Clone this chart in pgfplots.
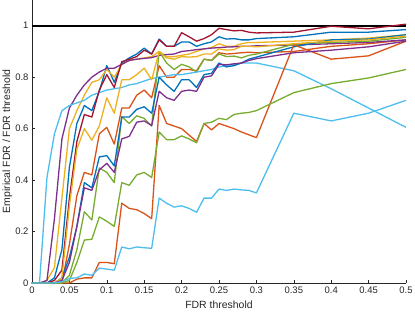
\documentclass[border=0pt]{standalone}
\usepackage{fontspec}
\setmainfont{Liberation Sans}
\usepackage{pgfplots}
\usepackage{pgfplotstable}
\pgfplotsset{compat=1.18}
\definecolor{mB}{rgb}{0,0.447,0.741}
\definecolor{mO}{rgb}{0.85,0.325,0.098}
\definecolor{mY}{rgb}{0.929,0.694,0.125}
\definecolor{mP}{rgb}{0.494,0.184,0.556}
\definecolor{mG}{rgb}{0.466,0.674,0.188}
\definecolor{mL}{rgb}{0.301,0.745,0.933}
\definecolor{mR}{rgb}{0.635,0.078,0.184}
\definecolor{axgray}{rgb}{0.15,0.15,0.15}
\pgfplotstableread{
x B1 Oa Y1 P1 G1 LB1 DR B2 Ob Y2 P2 G2 LB2
0.00 0 0 0 0 0 0 0 0 0 0 0 0 0
0.01 0 0 0 0 0 0 0 0 0 0 0 0 0
0.02 0 0 0.01 0.01 0 0.41 0 0 0 0 0 0 0
0.03 0.02 0 0.06 0.25 0 0.58 0.01 0 0 0 0 0 0
0.04 0.13 0 0.33 0.56 0 0.67 0.05 0.02 0 0.02 0.01 0 0.005
0.05 0.45 0.15 0.60 0.68 0.03 0.69 0.33 0.10 0 0.30 0.08 0.01 0.018
0.06 0.62 0.34 0.67 0.73 0.13 0.70 0.55 0.22 0.015 0.52 0.22 0.08 0.02
0.07 0.69 0.43 0.73 0.77 0.277 0.71 0.655 0.39 0.02 0.60 0.37 0.167 0.035
0.08 0.67 0.42 0.78 0.80 0.245 0.73 0.645 0.37 0.02 0.555 0.36 0.17 0.03
0.09 0.745 0.58 0.79 0.82 0.447 0.74 0.75 0.49 0.08 0.61 0.44 0.257 0.058
0.10 0.845 0.605 0.83 0.835 0.43 0.75 0.81 0.495 0.08 0.72 0.465 0.24 0.054
0.11 0.78 0.54 0.80 0.835 0.39 0.755 0.76 0.455 0.075 0.66 0.43 0.22 0.05
0.12 0.855 0.68 0.85 0.85 0.647 0.76 0.86 0.645 0.31 0.79 0.56 0.39 0.14
0.13 0.875 0.68 0.865 0.865 0.62 0.77 0.87 0.645 0.29 0.79 0.57 0.38 0.133
0.14 0.89 0.73 0.87 0.87 0.65 0.775 0.88 0.675 0.285 0.81 0.625 0.42 0.14
0.15 0.913 0.75 0.875 0.873 0.64 0.785 0.905 0.685 0.27 0.835 0.63 0.43 0.137
0.16 0.89 0.72 0.88 0.876 0.61 0.795 0.89 0.66 0.25 0.79 0.612 0.41 0.135
0.17 0.948 0.845 0.90 0.885 0.90 0.80 0.945 0.80 0.69 0.90 0.745 0.587 0.33
0.18 0.92 0.80 0.88 0.888 0.855 0.805 0.92 0.77 0.62 0.875 0.72 0.557 0.31
0.19 0.92 0.80 0.88 0.89 0.83 0.81 0.92 0.745 0.61 0.87 0.71 0.557 0.295
0.20 0.937 0.83 0.885 0.90 0.85 0.81 0.973 0.79 0.60 0.88 0.745 0.572 0.30
0.21 0.937 0.83 0.89 0.903 0.84 0.815 0.957 0.79 0.575 0.878 0.75 0.56 0.29
0.22 0.92 0.825 0.90 0.907 0.82 0.82 0.94 0.76 0.55 0.88 0.745 0.545 0.275
0.23 0.93 0.87 0.91 0.91 0.87 0.825 0.95 0.81 0.62 0.89 0.80 0.62 0.33
0.24 0.937 0.865 0.915 0.913 0.865 0.83 0.965 0.815 0.595 0.89 0.805 0.625 0.33
0.25 0.957 0.895 0.93 0.915 0.89 0.84 0.99 0.855 0.62 0.91 0.85 0.64 0.365
0.26 0.948 0.89 0.92 0.917 0.88 0.845 0.985 0.84 0.61 0.905 0.848 0.635 0.36
0.27 0.95 0.892 0.92 0.918 0.882 0.85 0.98 0.845 0.60 0.907 0.852 0.655 0.365
0.28 0.945 0.895 0.93 0.92 0.875 0.855 0.982 0.855 0.587 0.92 0.855 0.66 0.362
0.29 0.945 0.897 0.935 0.92 0.885 0.855 0.975 0.87 0.576 0.92 0.865 0.663 0.36
0.30 0.95 0.895 0.935 0.922 0.89 0.855 0.972 0.878 0.565 0.918 0.872 0.67 0.35
0.35 0.957 0.90 0.94 0.925 0.928 0.825 0.975 0.918 0.926 0.93 0.895 0.74 0.66
0.40 0.975 0.92 0.945 0.93 0.935 0.755 0.998 0.945 0.87 0.94 0.905 0.775 0.63
0.45 0.975 0.93 0.952 0.935 0.94 0.68 0.988 0.948 0.883 0.945 0.918 0.797 0.66
0.50 0.985 0.945 0.965 0.945 0.955 0.605 1.006 0.965 0.94 0.96 0.94 0.83 0.71
}\datatable
\begin{document}
\begin{tikzpicture}
\begin{axis}[
  scale only axis, width=374bp, height=283bp,
  xmin=0, xmax=0.5, ymin=0, ymax=1.1,
  axis x line*=bottom, axis y line*=left,
  axis line style={color=axgray, line width=0.5bp},
  xtick={0,0.05,0.1,0.15,0.2,0.25,0.3,0.35,0.4,0.45,0.5},
  xticklabels={0,0.05,0.1,0.15,0.2,0.25,0.3,0.35,0.4,0.45,0.5},
  ytick={0,0.2,0.4,0.6,0.8,1},
  yticklabels={0,0.2,0.4,0.6,0.8,1},
  tick align=inside, major tick length=3.5bp,
  tick style={color=axgray, line width=0.5bp},
  /pgf/number format/assume math mode=true,
  ticklabel style={font=\fontsize{9.5}{11}\selectfont, text=axgray},
  xlabel={FDR threshold}, ylabel={Empirical FDR / FDR threshold},
  label style={font=\fontsize{10.5}{12}\selectfont, text=axgray},
  xlabel style={at={(axis description cs:0.5,-0.078)}, anchor=center},
  ylabel style={at={(axis description cs:-0.066,0.5)}, anchor=center},
  every axis plot/.append style={line width=1.3bp, line join=round},
]
\addplot[black, line width=2bp] coordinates {(0,1) (0.5,1)};
\addplot[mB] table[x=x,y=B1] {\datatable};
\addplot[mO] table[x=x,y=Oa] {\datatable};
\addplot[mY] table[x=x,y=Y1] {\datatable};
\addplot[mP] table[x=x,y=P1] {\datatable};
\addplot[mG] table[x=x,y=G1] {\datatable};
\addplot[mL] table[x=x,y=LB1] {\datatable};
\addplot[mR] table[x=x,y=DR] {\datatable};
\addplot[mB] table[x=x,y=B2] {\datatable};
\addplot[mO] table[x=x,y=Ob] {\datatable};
\addplot[mY] table[x=x,y=Y2] {\datatable};
\addplot[mP] table[x=x,y=P2] {\datatable};
\addplot[mG] table[x=x,y=G2] {\datatable};
\addplot[mL] table[x=x,y=LB2] {\datatable};
\end{axis}
\pgfresetboundingbox
\path ([shift={(-32bp,-29bp)}]current axis.south west) rectangle ([shift={(9bp,0bp)}]current axis.north east);
\end{tikzpicture}
\end{document}
